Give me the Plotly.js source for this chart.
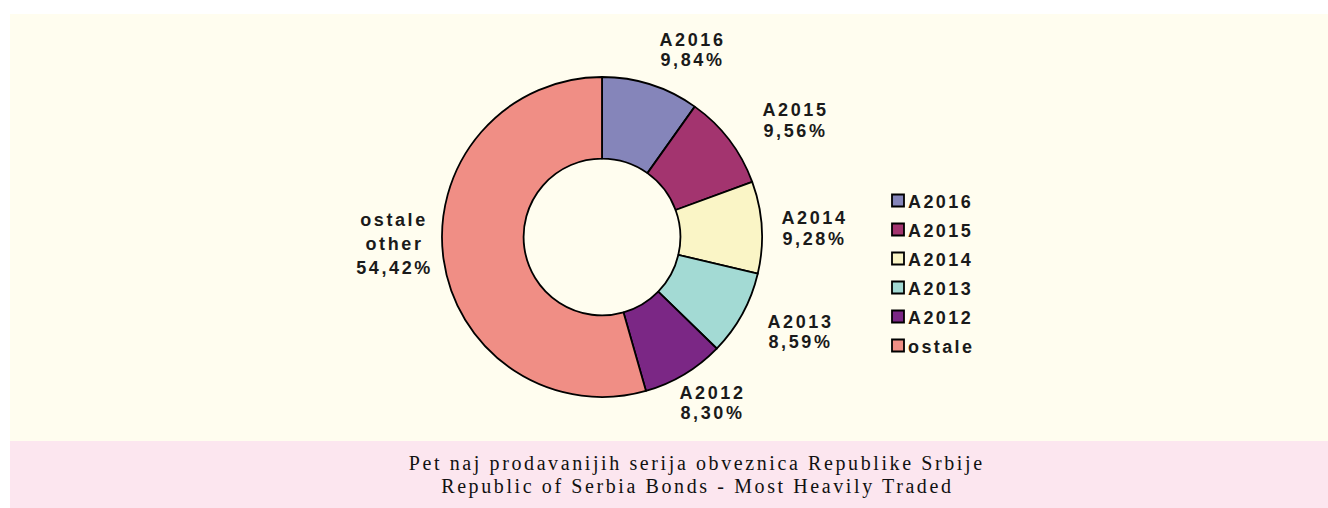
<!DOCTYPE html>
<html>
<head>
<meta charset="utf-8">
<script src="https://cdn.plot.ly/plotly-3.0.1.min.js"></script>
<style>
html,body{margin:0;padding:0;background:#ffffff;}
#chart{width:1328px;height:508px;}
#chart .legendtext{font-size:18px !important;letter-spacing:2.4px;transform:translateX(-10px);}
#chart .annotation-text{letter-spacing:2.6px;}
#chart .annotation[data-index="0"] .annotation-text,
#chart .annotation[data-index="1"] .annotation-text{letter-spacing:2.6px;}
</style>
</head>
<body>
<div id="chart"></div>
<script>
// ---- data ----
var categories = ['A2016', 'A2015', 'A2014', 'A2013', 'A2012', 'ostale'];
var labelNames = ['A2016', 'A2015', 'A2014', 'A2013', 'A2012', 'ostale|other'];
var values = [9.84, 9.56, 9.28, 8.59, 8.30, 54.42];
var colors = ['#8585BA', '#A3346F', '#FAF5C6', '#A3DAD4', '#7B2785', '#F08E85'];
var captionLines = ['Pet naj prodavanijih serija obveznica Republike Srbije', 'Republic of Serbia Bonds - Most Heavily Traded'];

// ---- layout config ----
var W = 1328, H = 508;
var cx = 602, cy = 237, r = 160;
var labelDist = 212;                 // radial distance of label centres (px)
var labelNudge = [[25, 15], [24, 12], [0, 4], [12, -7], [1, -16], [1, -22]]; // readability tweaks (px)
var labelFont = { family: 'Liberation Sans, Arial, sans-serif', size: 18, color: '#1a1a1a', weight: 700 };

function fmtPct(v) { return v.toFixed(2).replace('.', ',') + '%'; }

var trace = {
  type: 'pie',
  labels: categories,
  values: values,
  textinfo: 'none',
  hoverinfo: 'label+percent',
  sort: false,
  direction: 'clockwise',
  rotation: 0,
  hole: 0.49,
  marker: { colors: colors, line: { color: '#000000', width: 1.8 } },
  showlegend: true,
  domain: {
    x: [(cx - r) / W, (cx + r) / W],
    y: [(H - cy - r) / H, (H - cy + r) / H]
  }
};

var annotations = [];
// caption
captionLines.forEach(function (t, k) {
  annotations.push({
    xref: 'paper', yref: 'paper', x: 697 / W, y: (H - (463 + 23 * k)) / H,
    xanchor: 'center', yanchor: 'middle', showarrow: false, text: t,
    font: { family: 'Liberation Serif, serif', size: 20, color: '#111111' }
  });
});

// slice labels, positioned from each slice's mid-angle
var total = values.reduce(function (a, b) { return a + b; }, 0);
var cum = 0;
values.forEach(function (v, i) {
  var mid = (cum + v / 2) / total * 2 * Math.PI;
  cum += v;
  var px = cx + labelDist * Math.sin(mid) + labelNudge[i][0];
  var py = cy - labelDist * Math.cos(mid) + labelNudge[i][1];
  var lines = labelNames[i].split('|').concat([fmtPct(v)]);
  var gap = lines.length > 2 ? 24 : 20.5;
  lines.forEach(function (t, k) {
    var ly = py + (k - (lines.length - 1) / 2) * gap;
    annotations.push({
      xref: 'paper', yref: 'paper', x: (px + 1) / W, y: (H - ly) / H,
      xanchor: 'center', yanchor: 'middle', showarrow: false, text: t,
      font: labelFont
    });
  });
});

var layout = {
  width: W,
  height: H,
  margin: { l: 0, r: 0, t: 0, b: 0 },
  paper_bgcolor: '#ffffff',
  plot_bgcolor: '#ffffff',
  showlegend: true,
  legend: {
    x: 878 / W,
    y: (H - 181) / H,
    xanchor: 'left',
    yanchor: 'top',
    bgcolor: 'rgba(0,0,0,0)',
    font: { family: 'Liberation Sans, Arial, sans-serif', size: 20, color: '#1a1a1a', weight: 700 },
    itemwidth: 30
  },
  shapes: [
    { type: 'rect', xref: 'paper', yref: 'paper', x0: 10 / W, x1: 1, y0: (H - 441) / H, y1: (H - 14) / H,
      fillcolor: '#FFFDEF', line: { width: 0 }, layer: 'below' },
    { type: 'rect', xref: 'paper', yref: 'paper', x0: 10 / W, x1: 1, y0: 0, y1: (H - 441) / H,
      fillcolor: '#FCE6EF', line: { width: 0 }, layer: 'below' }
  ],
  annotations: annotations
};

Plotly.newPlot('chart', [trace], layout, { displayModeBar: false });
</script>
</body>
</html>
